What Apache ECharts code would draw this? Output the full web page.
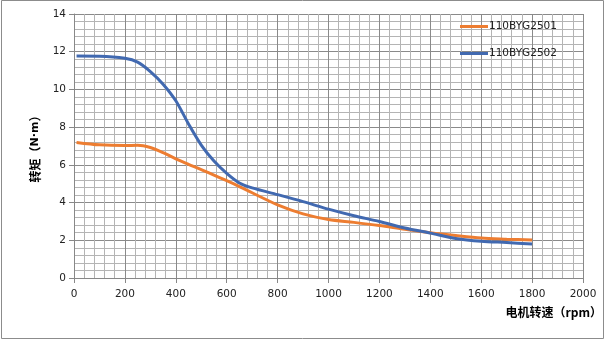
<!DOCTYPE html>
<html>
<head>
<meta charset="utf-8">
<script src="https://cdn.jsdelivr.net/npm/echarts@6/dist/echarts.min.js"></script>
<style>
html,body{margin:0;padding:0;background:#fff;}
#c{width:606px;height:341px;}
</style>
</head>
<body>
<div id="c"></div>
<script>
var speed = [10,100,200,250,300,350,400,450,500,550,600,650,700,800,900,1000,1100,1200,1300,1400,1500,1600,1700,1800];
var torque2501 = [7.19,7.06,7.02,7.04,6.92,6.65,6.32,6.03,5.75,5.45,5.16,4.85,4.52,3.88,3.4,3.1,2.95,2.78,2.58,2.4,2.25,2.12,2.06,2.01];
var torque2502 = [11.77,11.76,11.65,11.45,10.95,10.28,9.4,8.17,7.05,6.2,5.55,5.04,4.78,4.42,4.05,3.65,3.3,3.0,2.65,2.38,2.1,1.95,1.88,1.8];
var seriesNames = ['110BYG2501','110BYG2502'];
var xName = '电机转速（rpm）';
var yNameCn = '转矩';
var yNameUnit = 'N·m';

function pairs(xs, ys){ return xs.map(function(x,i){ return [x, ys[i]]; }); }

var chart = echarts.init(document.getElementById('c'), null, {renderer:'canvas'});
var font = 'DejaVu Sans';
chart.setOption({
  animation:false,
  backgroundColor:'#fff',
  graphic:[{type:'rect', shape:{x:1.5,y:0.5,width:602,height:338}, style:{fill:'none', stroke:'#8c8c8c', lineWidth:1}, z:-1}],
  grid:{left:74, right:23, top:14, bottom:63},
  legend:{
    orient:'vertical', left:460, top:21, itemWidth:28, itemHeight:3, itemGap:16, padding:0,
    icon:'rect',
    textStyle:{fontFamily:font, fontSize:10.5, color:'#222', padding:[0,0,0,-4]},
    data:seriesNames
  },
  xAxis:{
    type:'value', min:0, max:2000, interval:200,
    name:xName, nameLocation:'end',
    nameTextStyle:{fontFamily:'Noto Sans CJK SC', fontWeight:'bold', fontSize:12, color:'#000', align:'right', verticalAlign:'top', padding:[28,0,0,0]},
    nameGap:19,
    axisLine:{lineStyle:{color:'#888', width:1}},
    axisTick:{show:true, length:5, lineStyle:{color:'#888'}},
    axisLabel:{fontFamily:font, fontSize:10.5, color:'#222', margin:11, formatter:function(v){return String(v);}},
    splitLine:{show:true, lineStyle:{color:'#8a8a8a', width:1}},
    minorTick:{show:false, splitNumber:5},
    minorSplitLine:{show:true, lineStyle:{color:'#b4b4b4', width:1}}
  },
  yAxis:{
    type:'value', min:0, max:14, interval:2,
    name:'{cn|' + yNameCn + '（}{u|' + yNameUnit + '}{cn|）}', nameLocation:'middle', nameGap:33, nameRotate:90,
    nameTextStyle:{
      rich:{
        cn:{fontFamily:'Noto Sans CJK SC', fontWeight:'bold', fontSize:12, color:'#000'},
        u:{fontFamily:'DejaVu Sans', fontWeight:'bold', fontSize:11, color:'#000'}
      }
    },
    axisLine:{show:true, lineStyle:{color:'#888', width:1}},
    axisTick:{show:true, length:5, lineStyle:{color:'#888'}},
    axisLabel:{fontFamily:font, fontSize:10.5, color:'#222', margin:8},
    splitLine:{show:true, lineStyle:{color:'#8a8a8a', width:1}},
    minorTick:{show:false, splitNumber:5},
    minorSplitLine:{show:true, lineStyle:{color:'#b4b4b4', width:1}}
  },
  series:[
    {name:seriesNames[0], type:'line', data:pairs(speed, torque2501), smooth:0.3, showSymbol:false,
     itemStyle:{color:'#ED7D31'}, lineStyle:{color:'#ED7D31', width:3}},
    {name:seriesNames[1], type:'line', data:pairs(speed, torque2502), smooth:0.3, showSymbol:false,
     itemStyle:{color:'#4169B0'}, lineStyle:{color:'#4169B0', width:3}}
  ]
});
</script>
</body>
</html>
